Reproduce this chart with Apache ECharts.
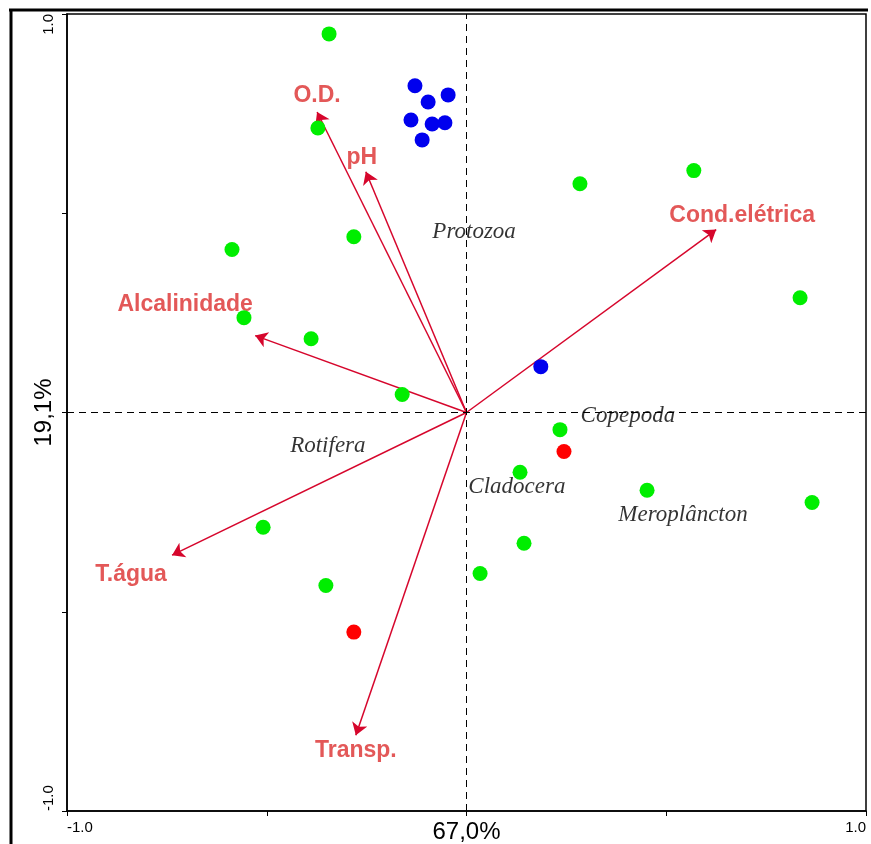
<!DOCTYPE html>
<html><head><meta charset="utf-8">
<script src="https://cdn.jsdelivr.net/npm/echarts@6/dist/echarts.min.js"></script>
<style>html,body{margin:0;padding:0;background:#fff}#c{width:871px;height:844px}</style>
</head><body><div id="c"></div>
<script>
// Site scores
const greenX = [-0.344,-0.372,0.284,0.569,-0.587,-0.282,-0.557,-0.389,0.835,-0.161,0.234,0.134,0.452,0.865,-0.509,0.144,0.034,-0.352];
const greenY = [0.950,0.714,0.574,0.607,0.409,0.441,0.238,0.185,0.288,0.045,-0.043,-0.150,-0.195,-0.226,-0.288,-0.328,-0.404,-0.434];
const blueX = [-0.129,-0.096,-0.046,-0.139,-0.086,-0.054,-0.111,0.186];
const blueY = [0.820,0.779,0.797,0.734,0.724,0.727,0.684,0.115];
const redX = [0.244,-0.282];
const redY = [-0.098,-0.551];
// Environmental variables (arrows)
const varNames = ['O.D.','pH','Cond.elétrica','Alcalinidade','T.água','Transp.'];
const varX = [-0.374,-0.252,0.625,-0.529,-0.737,-0.277];
const varY = [0.754,0.604,0.459,0.193,-0.358,-0.810];
// Species groups
const sppNames = ['Protozoa','Copepoda','Rotifera','Cladocera','Meroplâncton'];
const sppX = [0.019,0.404,-0.347,0.126,0.542];
const sppY = [0.454,-0.008,-0.085,-0.188,-0.258];
// Axis labels
const xAxisTitle = '67,0%';
const yAxisTitle = '19,1%';
const tickMin = '-1.0', tickMax = '1.0';

const zip = (a,b)=>a.map((v,i)=>[v,b[i]]);
// label pixel offsets from arrow tips (layout only)
const varLabelOffsets = [[0,-16],[-4,-14],[26,-14],[-70,-31],[-41,19],[0,15]];

const arrowColor = '#d6062c';
const labelColor = '#dc2e2e';

const chart = echarts.init(document.getElementById('c'), null, {renderer:'canvas'});
const fmt = (title)=> v => v === -1 ? '{n|' + tickMin + '}' : (v === 1 ? '{n|' + tickMax + '}' : (v === 0 ? '{b|' + title + '}' : ''));
const richAxis = {
  b:{fontSize:24, fontFamily:'Liberation Sans, Arial', color:'#000'},
  n:{fontSize:15, fontFamily:'Liberation Sans, Arial', color:'#000'}
};
chart.setOption({
  animation:false,
  backgroundColor:'#fff',
  grid:{left:67, top:14, right:5, bottom:32, show:true, borderColor:'#000', borderWidth:1.5},
  xAxis:{type:'value', min:-1, max:1, interval:0.5,
    axisLine:{show:true, onZero:false, lineStyle:{color:'#000', width:1.5}},
    axisTick:{show:true, length:5, lineStyle:{color:'#000'}},
    splitLine:{show:false},
    axisLabel:{formatter:fmt(xAxisTitle), color:'#000', fontFamily:'Liberation Sans, Arial', fontSize:15, margin:9,
      alignMinLabel:'left', alignMaxLabel:'right', showMinLabel:true, showMaxLabel:true, rich:richAxis}},
  yAxis:{type:'value', min:-1, max:1, interval:0.5,
    axisLine:{show:true, onZero:false, lineStyle:{color:'#000', width:1.5}},
    axisTick:{show:true, length:5, lineStyle:{color:'#000'}},
    splitLine:{show:false},
    axisLabel:{formatter:fmt(yAxisTitle), rotate:90, color:'#000', fontFamily:'Liberation Sans, Arial', fontSize:15, margin:11,
      alignMinLabel:'left', alignMaxLabel:'right', showMinLabel:true, showMaxLabel:true, rich:richAxis}},
  graphic:[
    {type:'line', shape:{x1:9, y1:10, x2:868, y2:10}, style:{stroke:'#000', lineWidth:3}, z:100},
    {type:'line', shape:{x1:11, y1:9, x2:11, y2:844}, style:{stroke:'#000', lineWidth:3}, z:100}
  ],
  series:[
    {type:'scatter', data:[], markLine:{silent:true, symbol:'none', label:{show:false},
      lineStyle:{color:'#000', type:[7,5], width:1}, data:[{xAxis:0},{yAxis:0}]}},
    {type:'lines', coordinateSystem:'cartesian2d', z:3,
      symbol:['none','arrow'], symbolSize:[0,12],
      lineStyle:{color:arrowColor, width:1.5, opacity:1},
      data: varX.map((x,i)=>({coords:[[0,0],[x,varY[i]]]}))},
    {type:'scatter', symbolSize:0, z:4, silent:true,
      data: varX.map((x,i)=>({value:[x,varY[i]], name:varNames[i],
        label:{show:true, formatter:'{b}', position:'inside', offset:varLabelOffsets[i],
          color:labelColor, fontSize:23, fontWeight:'bold', fontFamily:'Liberation Sans, Arial'}}))},
    {type:'scatter', symbolSize:0, z:4, silent:true,
      data: sppX.map((x,i)=>({value:[x,sppY[i]], name:sppNames[i]})),
      label:{show:true, formatter:'{b}', position:'inside', color:'#000', fontSize:23, fontStyle:'italic',
        fontFamily:'Liberation Serif, Times New Roman, serif'}},
    {type:'scatter', symbol:'circle', symbolSize:15, z:5, itemStyle:{color:'#00ee00', opacity:1}, data:zip(greenX,greenY)},
    {type:'scatter', symbol:'circle', symbolSize:15, z:5, itemStyle:{color:'#0000ee', opacity:1}, data:zip(blueX,blueY)},
    {type:'scatter', symbol:'circle', symbolSize:15, z:5, itemStyle:{color:'#ff0000', opacity:1}, data:zip(redX,redY)}
  ]
});
</script></body></html>
